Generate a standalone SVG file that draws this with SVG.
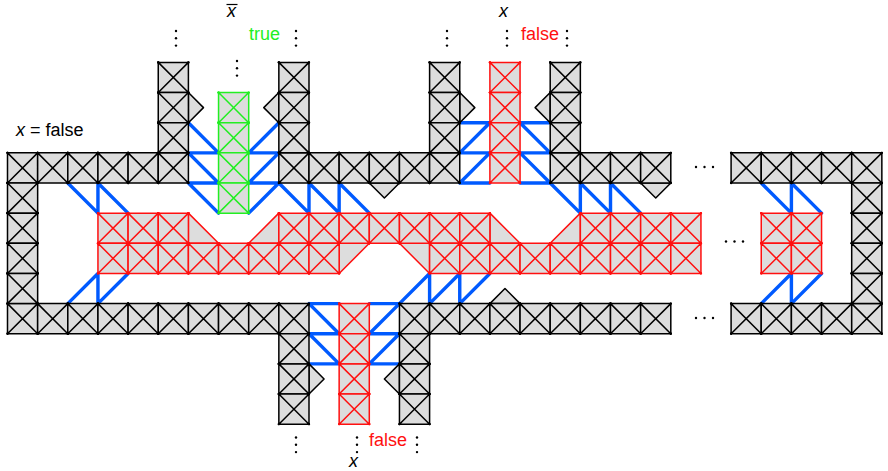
<svg xmlns="http://www.w3.org/2000/svg" xmlns:xlink="http://www.w3.org/1999/xlink" width="888" height="471" viewBox="0 0 888 471">
<style>
.k{fill:#dddddd;stroke:#000;stroke-width:1.5;stroke-linejoin:round;marker:url(#dk)}
.kb{fill:#dddddd;stroke:#000;stroke-width:1.5;stroke-linejoin:round}
.r{fill:#dddddd;stroke:#ff1010;stroke-width:1.5;stroke-linejoin:round;marker:url(#dr)}
.g{fill:#dddddd;stroke:#22ee22;stroke-width:1.5;stroke-linejoin:round;marker:url(#dg)}
.b{fill:none;stroke:#005aff;stroke-width:3.4;stroke-linecap:round}
.t{font-family:"Liberation Sans",Arial,sans-serif;font-size:18px}
.d{fill:#000}
</style>
<defs>
<marker id="dk" markerUnits="userSpaceOnUse" markerWidth="4" markerHeight="4" refX="2" refY="2" overflow="visible"><circle cx="2" cy="2" r="1.15" fill="#000"/></marker>
<marker id="dr" markerUnits="userSpaceOnUse" markerWidth="4" markerHeight="4" refX="2" refY="2" overflow="visible"><circle cx="2" cy="2" r="1.15" fill="#ff1010"/></marker>
<marker id="dg" markerUnits="userSpaceOnUse" markerWidth="4" markerHeight="4" refX="2" refY="2" overflow="visible"><circle cx="2" cy="2" r="1.15" fill="#22ee22"/></marker>
<path id="ck" class="k" d="M0 0H30V30H0Z M0 0L30 30 M30 0L0 30"/>
<path id="cr" class="r" d="M0 0H30V30H0Z M0 0L30 30 M30 0L0 30"/>
<path id="cg" class="g" d="M0 0H30V30H0Z M0 0L30 30 M30 0L0 30"/>
<g id="vd"><circle cx="0" cy="0" r="1.2"/><circle cx="0" cy="7.3" r="1.2"/><circle cx="0" cy="14.6" r="1.2"/></g>
<g id="hd"><circle cx="0" cy="0" r="1.2"/><circle cx="8.5" cy="0" r="1.2"/><circle cx="17" cy="0" r="1.2"/></g>
</defs>
<rect width="888" height="471" fill="#fff"/>
<g transform="translate(7.5 62.4) scale(1.005)">
<g id="connectors" class="b">
<path d="M180 60L210 90 M180 90H210 M180 90L210 120 M180 120H210 M180 120L210 150 M270 60L240 90 M240 90H270 M270 90L240 120 M240 120H270 M270 120L240 150"/>
<path d="M60 120L90 150 M90 120V150 M90 120L120 150"/>
<path d="M270 120L300 150 M300 120V150 M300 120L330 150 M330 120V150 M330 120L360 150"/>
<path d="M450 60H480 M480 60L450 90 M450 90H480 M480 90L450 120 M450 120H480 M510 60H540 M510 60L540 90 M510 90H540 M510 90L540 120 M510 120H540"/>
<path d="M540 120L570 150 M570 120V150 M570 120L600 150 M600 120V150 M600 120L630 150"/>
<path d="M750 120L780 150 M780 120V150 M780 120L810 150"/>
<path d="M750 240L780 210 M780 210V240 M780 240L810 210"/>
<path d="M60 240L90 210 M90 210V240 M90 240L120 210"/>
<path d="M300 240H330 M300 240L330 270 M300 270H330 M300 270L330 300 M300 300H330 M360 240H390 M390 240L360 270 M360 270H390 M390 270L360 300 M360 300H390"/>
<path d="M390 240L420 210 M420 210V240 M420 240L450 210 M450 210V240 M450 240L480 210"/>
</g>
<g id="bumps" class="kb">
<path d="M180 30L195 45L180 60Z"/>
<path d="M270 30L255 45L270 60Z"/>
<path d="M450 30L465 45L450 60Z"/>
<path d="M540 30L525 45L540 60Z"/>
<path d="M360 120L375 135L390 120Z"/>
<path d="M630 120L645 135L660 120Z"/>
<path d="M480 240L495 225L510 240Z"/>
<path d="M300 300L315 315L300 330Z"/>
<path d="M390 300L375 315L390 330Z"/>
</g>
<g id="top-row">
<use href="#ck" x="0" y="90"/><use href="#ck" x="30" y="90"/><use href="#ck" x="60" y="90"/><use href="#ck" x="90" y="90"/><use href="#ck" x="120" y="90"/><use href="#ck" x="150" y="90"/>
<use href="#ck" x="270" y="90"/><use href="#ck" x="300" y="90"/><use href="#ck" x="330" y="90"/><use href="#ck" x="360" y="90"/><use href="#ck" x="390" y="90"/><use href="#ck" x="420" y="90"/>
<use href="#ck" x="540" y="90"/><use href="#ck" x="570" y="90"/><use href="#ck" x="600" y="90"/><use href="#ck" x="630" y="90"/>
<use href="#ck" x="720" y="90"/><use href="#ck" x="750" y="90"/><use href="#ck" x="780" y="90"/><use href="#ck" x="810" y="90"/><use href="#ck" x="840" y="90"/>
</g>
<g id="bottom-row">
<use href="#ck" x="0" y="240"/><use href="#ck" x="30" y="240"/><use href="#ck" x="60" y="240"/><use href="#ck" x="90" y="240"/><use href="#ck" x="120" y="240"/><use href="#ck" x="150" y="240"/><use href="#ck" x="180" y="240"/><use href="#ck" x="210" y="240"/><use href="#ck" x="240" y="240"/><use href="#ck" x="270" y="240"/>
<use href="#ck" x="390" y="240"/><use href="#ck" x="420" y="240"/><use href="#ck" x="450" y="240"/><use href="#ck" x="480" y="240"/><use href="#ck" x="510" y="240"/><use href="#ck" x="540" y="240"/><use href="#ck" x="570" y="240"/><use href="#ck" x="600" y="240"/><use href="#ck" x="630" y="240"/>
<use href="#ck" x="720" y="240"/><use href="#ck" x="750" y="240"/><use href="#ck" x="780" y="240"/><use href="#ck" x="810" y="240"/><use href="#ck" x="840" y="240"/>
</g>
<g id="left-col">
<use href="#ck" x="0" y="120"/><use href="#ck" x="0" y="150"/><use href="#ck" x="0" y="180"/><use href="#ck" x="0" y="210"/>
</g>
<g id="right-col">
<use href="#ck" x="840" y="120"/><use href="#ck" x="840" y="150"/><use href="#ck" x="840" y="180"/><use href="#ck" x="840" y="210"/>
</g>
<g id="gadget-true">
<use href="#ck" x="150" y="0"/><use href="#ck" x="150" y="30"/><use href="#ck" x="150" y="60"/>
<use href="#ck" x="270" y="0"/><use href="#ck" x="270" y="30"/><use href="#ck" x="270" y="60"/>
<use href="#cg" x="210" y="30"/><use href="#cg" x="210" y="60"/><use href="#cg" x="210" y="90"/><use href="#cg" x="210" y="120"/>
</g>
<g id="gadget-false-top">
<use href="#ck" x="420" y="0"/><use href="#ck" x="420" y="30"/><use href="#ck" x="420" y="60"/>
<use href="#ck" x="540" y="0"/><use href="#ck" x="540" y="30"/><use href="#ck" x="540" y="60"/>
<use href="#cr" x="480" y="0"/><use href="#cr" x="480" y="30"/><use href="#cr" x="480" y="60"/><use href="#cr" x="480" y="90"/>
</g>
<g id="gadget-false-bottom">
<use href="#ck" x="270" y="270"/><use href="#ck" x="270" y="300"/><use href="#ck" x="270" y="330"/>
<use href="#ck" x="390" y="270"/><use href="#ck" x="390" y="300"/><use href="#ck" x="390" y="330"/>
<use href="#cr" x="330" y="240"/><use href="#cr" x="330" y="270"/><use href="#cr" x="330" y="300"/><use href="#cr" x="330" y="330"/>
</g>
<g id="red-region">
<path class="r" d="M180 150L210 180L180 180Z"/>
<path class="r" d="M270 150L270 180L240 180Z"/>
<path class="r" d="M480 150L510 180L480 180Z"/>
<path class="r" d="M570 150L570 180L540 180Z"/>
<path class="r" d="M330 180L360 180L330 210Z"/>
<path class="r" d="M390 180L420 180L420 210Z"/>
<use href="#cr" x="90" y="150"/><use href="#cr" x="120" y="150"/><use href="#cr" x="150" y="150"/>
<use href="#cr" x="270" y="150"/><use href="#cr" x="300" y="150"/><use href="#cr" x="330" y="150"/><use href="#cr" x="360" y="150"/><use href="#cr" x="390" y="150"/><use href="#cr" x="420" y="150"/><use href="#cr" x="450" y="150"/>
<use href="#cr" x="570" y="150"/><use href="#cr" x="600" y="150"/><use href="#cr" x="630" y="150"/><use href="#cr" x="660" y="150"/>
<use href="#cr" x="750" y="150"/><use href="#cr" x="780" y="150"/>
<use href="#cr" x="90" y="180"/><use href="#cr" x="120" y="180"/><use href="#cr" x="150" y="180"/><use href="#cr" x="180" y="180"/><use href="#cr" x="210" y="180"/><use href="#cr" x="240" y="180"/><use href="#cr" x="270" y="180"/><use href="#cr" x="300" y="180"/>
<use href="#cr" x="420" y="180"/><use href="#cr" x="450" y="180"/><use href="#cr" x="480" y="180"/><use href="#cr" x="510" y="180"/><use href="#cr" x="540" y="180"/><use href="#cr" x="570" y="180"/><use href="#cr" x="600" y="180"/><use href="#cr" x="630" y="180"/><use href="#cr" x="660" y="180"/>
<use href="#cr" x="750" y="180"/><use href="#cr" x="780" y="180"/>
</g>
</g>
<g id="dots" class="d">
<use href="#vd" x="176" y="31"/><use href="#vd" x="237" y="61"/><use href="#vd" x="296" y="31"/>
<use href="#vd" x="447" y="31"/><use href="#vd" x="507" y="31"/><use href="#vd" x="567" y="31"/>
<use href="#vd" x="296" y="437.5"/><use href="#vd" x="357" y="437.5"/><use href="#vd" x="417" y="437.5"/>
<use href="#hd" x="696" y="167"/><use href="#hd" x="726" y="241.5"/><use href="#hd" x="696" y="318"/>
</g>
<g id="labels" class="t">
<text x="16" y="136"><tspan font-style="italic">x</tspan> = false</text>
<text x="227" y="17" font-style="italic">x</text>
<line x1="226.5" y1="4.5" x2="237.5" y2="4.5" stroke="#000" stroke-width="1.2"/>
<text x="249" y="40" fill="#22ee22">true</text>
<text x="499" y="17" font-style="italic">x</text>
<text x="521" y="40" fill="#ff1010">false</text>
<text x="369" y="446" fill="#ff1010">false</text>
<text x="349" y="467" font-style="italic">x</text>
</g>
</svg>
